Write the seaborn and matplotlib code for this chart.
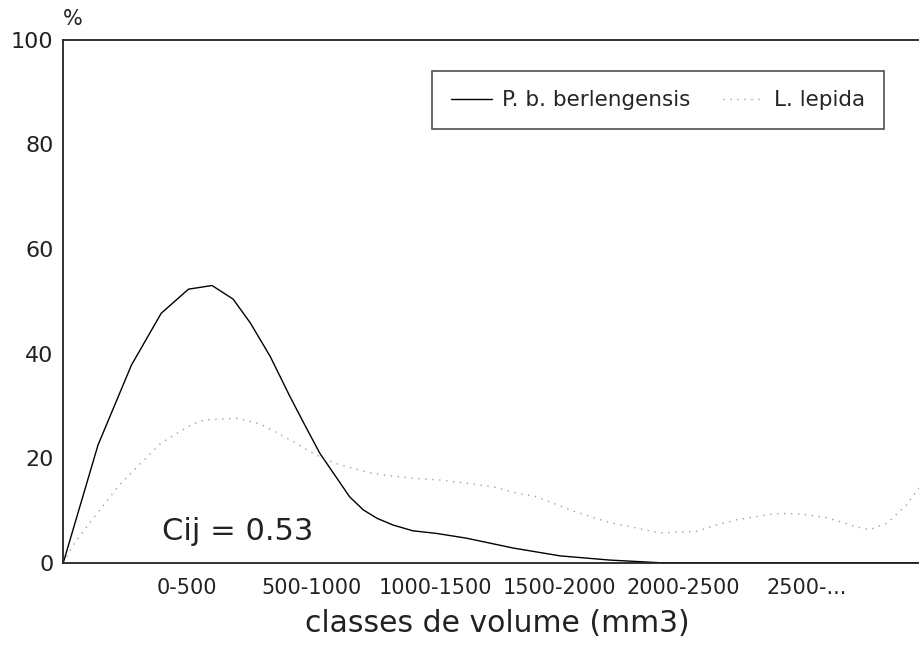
import pandas as pd
import matplotlib
matplotlib.use('Agg')
import matplotlib.pyplot as plt
import seaborn as sns

# Volume classes (x positions 1..6, origin at 0)
classes = ['0-500', '500-1000', '1000-1500', '1500-2000', '2000-2500', '2500-...']
class_pos = [1, 2, 3, 4, 5, 6]

# P. b. berlengensis curve
berl_x = [0, 0.28, 0.55, 0.79, 1.01, 1.20, 1.37, 1.51, 1.67, 1.83, 1.94, 2.07,
          2.18, 2.31, 2.42, 2.53, 2.66, 2.82, 3.01, 3.25, 3.63, 4.01, 4.41,
          4.81, 5.5, 6.0, 6.5, 7.0]
berl_y = [0, 22.5, 37.8, 47.7, 52.3, 53.0, 50.4, 45.8, 39.4, 31.7, 26.7, 20.9,
          17.1, 12.6, 10.1, 8.5, 7.2, 6.1, 5.6, 4.7, 2.8, 1.3, 0.5,
          0.0, 0.0, 0.0, 0.0, 0.0]

# L. lepida curve (dotted)
lep_x = [0, 0.09, 0.19, 0.43, 0.47, 0.73, 0.79, 0.93, 1.04, 1.14, 1.41, 1.59,
         1.72, 1.86, 1.92, 2.04, 2.18, 2.31, 2.47, 2.61, 2.72, 2.85, 3.04, 3.25,
         3.47, 3.66, 3.82, 3.95, 4.11, 4.39, 4.81, 5.11, 5.24, 5.43, 5.56, 5.72,
         5.83, 5.96, 6.01, 6.14, 6.26, 6.39, 6.50, 6.65, 6.80, 6.88, 7.0]
lep_y = [0, 3.7, 6.9, 14.2, 15.3, 21.5, 22.9, 24.9, 26.5, 27.3, 27.6, 26.5,
         24.9, 23.1, 22.2, 20.6, 19.1, 18.2, 17.2, 16.7, 16.4, 16.1, 15.8, 15.2,
         14.5, 13.3, 12.6, 11.4, 9.9, 7.8, 5.7, 6.0, 7.0, 8.2, 8.7, 9.3,
         9.4, 9.3, 9.1, 8.7, 7.9, 6.9, 6.3, 7.6, 11.0, 13.6, 17.0]

df = pd.concat([
    pd.DataFrame({'x': berl_x, 'y': berl_y, 'sp': 'P. b. berlengensis'}),
    pd.DataFrame({'x': lep_x, 'y': lep_y, 'sp': 'L. lepida'}),
])

sns.set_style('white')
plt.rcParams['font.family'] = ['DejaVu Sans']

W, H = 920, 647
fig = plt.figure(figsize=(W / 100, H / 100), dpi=100)
# axes run past the right edge, like the scanned figure
ax = fig.add_axes([63.3 / W, 1 - 562.7 / H, (931 - 63.3) / W, (562.7 - 39.7) / H])

sns.lineplot(data=df[df.sp == 'P. b. berlengensis'], x='x', y='y', sort=False,
             estimator=None, color='black', lw=1.0, ax=ax,
             label='P. b. berlengensis')
sns.lineplot(data=df[df.sp == 'L. lepida'], x='x', y='y', sort=False,
             estimator=None, color='#a0a0a0', lw=1.0, linestyle=(0, (1, 4)),
             ax=ax, label='L. lepida')

ax.set_xlim(0, 7)
ax.set_ylim(0, 100)
ax.set_xticks(class_pos)
ax.set_xticklabels(classes)
ax.set_yticks([0, 20, 40, 60, 80, 100])
ax.tick_params(axis='y', direction='in', length=8, width=1, pad=7,
               labelsize=16, colors='#222222')
ax.tick_params(axis='x', length=0, pad=11, labelsize=15, colors='#222222')

for side in ['left', 'bottom', 'top']:
    ax.spines[side].set_color('#222222')
    ax.spines[side].set_linewidth(1.3)
ax.spines['right'].set_visible(False)

ax.set_xlabel('classes de volume (mm3)', fontsize=21.5, color='#222222', labelpad=8)
ax.set_ylabel('')
ax.text(0.0, 1.02, '%', transform=ax.transAxes, fontsize=15, color='#222222',
        ha='left', va='bottom')
ax.text(0.80, 4.3, 'Cij = 0.53', fontsize=22, color='#222222', va='baseline')

leg = ax.legend(loc='upper left', bbox_to_anchor=(431.7 / W, 1 - 70.7 / H),
                bbox_transform=fig.transFigure, ncol=2, fontsize=15.5,
                frameon=True, fancybox=False, borderpad=0.9, borderaxespad=0,
                handlelength=1.9, handletextpad=0.45, columnspacing=1.55)
leg.get_frame().set_edgecolor('#222222')
leg.get_frame().set_linewidth(1.2)

fig.savefig('out.png', dpi=100)
